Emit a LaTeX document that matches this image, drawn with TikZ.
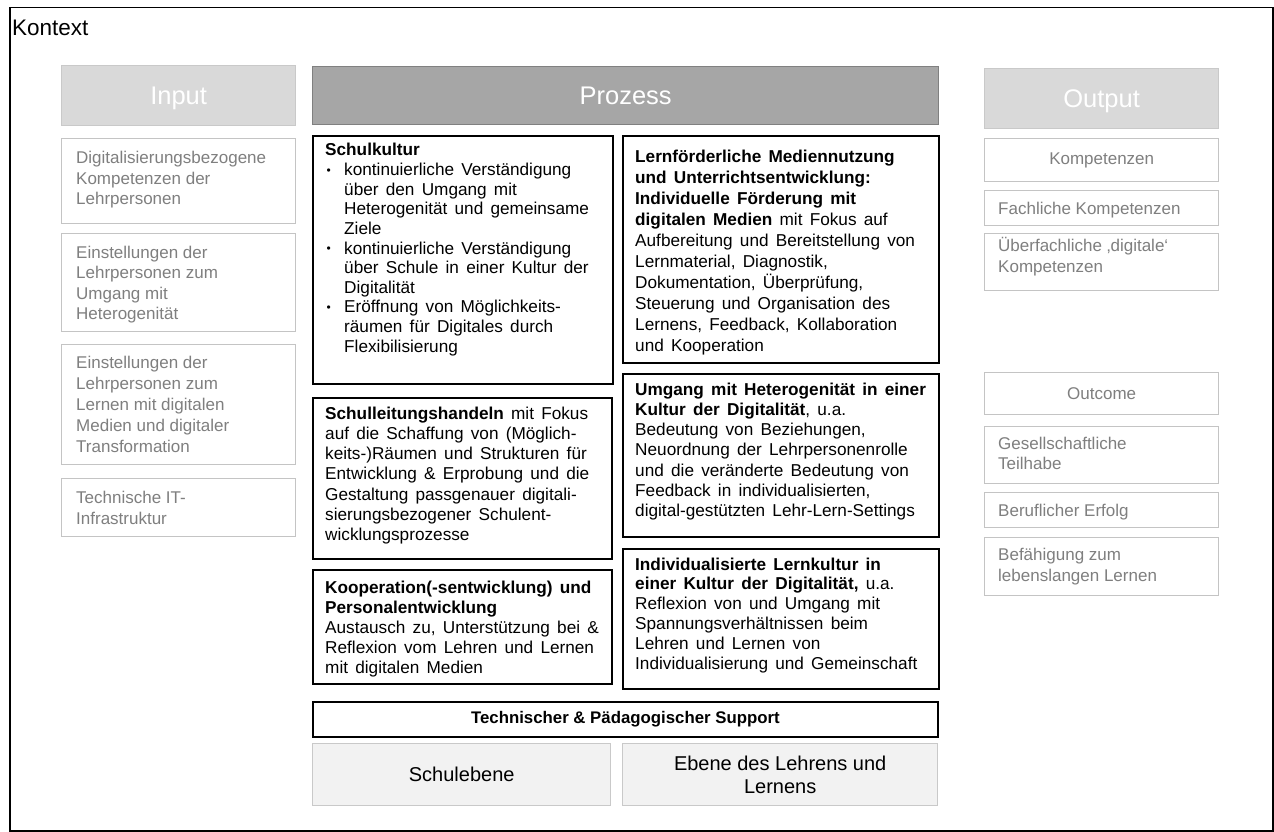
\documentclass[tikz,border=0pt]{standalone}
\usepackage{fontspec}
\setmainfont{Liberation Sans}
\definecolor{hdrlight}{HTML}{D9D9D9}
\definecolor{hdrlightline}{HTML}{C9C9C9}
\definecolor{hdrdark}{HTML}{A6A6A6}
\definecolor{hdrdarkline}{HTML}{808080}
\definecolor{itemline}{HTML}{C4C4C4}
\definecolor{itemtext}{HTML}{7F7F7F}
\definecolor{levelfill}{HTML}{F2F2F2}
\definecolor{levelline}{HTML}{C9C9C9}
% text block: first baseline at the node's base, fixed line spacing
\newcommand\lineblock[2]{\parbox[t]{310pt}{\fontsize{17}{#1}\selectfont\parskip=0pt\parindent=0pt #2}}
% process text: slightly wider word spacing
\newcommand\procblock[2]{\parbox[t]{330pt}{\fontsize{17.2}{#1}\selectfont\spaceskip=0.42em\relax\parskip=0pt\parindent=0pt #2}}
% bullet item with hanging indent
\newcommand\bulletitem[1]{{\hangindent=19pt\hangafter=1\noindent\makebox[19pt][l]{\hspace{1.5pt}\raisebox{1.2pt}{\fontsize{12}{12}\selectfont•}}#1\par}}
\begin{document}
\begin{tikzpicture}[x=1pt,y=-1pt,
  frame/.style={draw=black, line width=1.5pt, anchor=north west, inner sep=0pt},
  hdr/.style={anchor=north west, inner sep=0pt, text=white,
    font=\fontsize{25.5}{30}\selectfont, text height=18.3pt, text depth=0pt, line width=1.3pt},
  lighthdr/.style={hdr, draw=hdrlightline, fill=hdrlight},
  darkhdr/.style={hdr, draw=hdrdarkline, fill=hdrdark},
  gitem/.style={draw=itemline, fill=white, line width=1.4pt, anchor=north west, inner sep=0pt,
    minimum width=234pt, text=itemtext, font=\fontsize{17}{20}\selectfont},
  pbox/.style={draw=black, line width=1.8pt, anchor=north west, inner sep=0pt},
  gtext/.style={anchor=base west, inner sep=0pt, text=itemtext},
  btext/.style={anchor=base west, inner sep=0pt, text=black},
  levelbox/.style={draw=levelline, fill=levelfill, line width=1.4pt, anchor=north west,
    inner sep=0pt, align=center, font=\fontsize{20}{23}\selectfont}
]
\useasboundingbox (0,0) rectangle (1274,832);

% context frame
\node[frame, minimum width=1263pt, minimum height=823pt] (ctx) at (9,7) {};
\node[anchor=base west, inner sep=0pt, font=\fontsize{22.5}{26}\selectfont] (ctxlabel) at (12,36) {Kontext};

% column headers
\node[lighthdr, minimum width=234pt, minimum height=60pt] (input) at (61,65) {Input};
\node[darkhdr, minimum width=626pt, minimum height=58pt] (prozess) at (312,66) {Prozess};
\node[lighthdr, minimum width=234pt, minimum height=60pt] (output) at (984,68) {Output};

% input column
\node[gitem, minimum height=85pt] (in1) at (61,138) {};
\node[gtext] (in1t) at (76,163) {\lineblock{21}{Digitalisierungsbezogene\\Kompetenzen der\\Lehrpersonen}};
\node[gitem, minimum height=98pt] (in2) at (61,233) {};
\node[gtext] (in2t) at (76,258) {\lineblock{20.5}{Einstellungen der\\Lehrpersonen zum\\Umgang mit\\Heterogenität}};
\node[gitem, minimum height=120pt] (in3) at (61,344) {};
\node[gtext] (in3t) at (76,368) {\lineblock{21.2}{Einstellungen der\\Lehrpersonen zum\\Lernen mit digitalen\\Medien und digitaler\\Transformation}};
\node[gitem, minimum height=58pt] (in4) at (61,478) {};
\node[gtext] (in4t) at (76,503) {\lineblock{21}{Technische IT-\\Infrastruktur}};

% output column
\node[gitem, minimum height=43pt] (komp) at (984,138) {Kompetenzen};
\node[gitem, minimum height=35pt] (fach) at (984,190) {};
\node[gtext] (facht) at (998,214) {\lineblock{21}{Fachliche Kompetenzen}};
\node[gitem, minimum height=57pt] (ueber) at (984,233) {};
\node[gtext] (uebert) at (998,251) {\lineblock{21}{Überfachliche ‚digitale‘\\Kompetenzen}};
\node[gitem, minimum height=42pt] (outcome) at (984,372) {Outcome};
\node[gitem, minimum height=57pt] (teil) at (984,426) {};
\node[gtext] (teilt) at (998,449) {\lineblock{20.5}{Gesellschaftliche\\Teilhabe}};
\node[gitem, minimum height=35pt] (beruf) at (984,492) {};
\node[gtext] (beruft) at (998,516) {\lineblock{21}{Beruflicher Erfolg}};
\node[gitem, minimum height=58pt] (lebens) at (984,537) {};
\node[gtext] (lebenst) at (998,560) {\lineblock{21}{Befähigung zum\\lebenslangen Lernen}};

% process: school level (left) and teaching level (right)
\node[pbox, minimum width=300pt, minimum height=248pt] (kultur) at (312,135) {};
\node[btext] (kulturt) at (325,156) {\procblock{19.6}{%
  \textbf{Schulkultur}\par
  \bulletitem{kontinuierliche Verständigung\\über den Umgang mit\\Heterogenität und gemeinsame\\Ziele}
  \bulletitem{kontinuierliche Verständigung\\über Schule in einer Kultur der\\Digitalität}
  \bulletitem{Eröffnung von Möglichkeits-\\räumen für Digitales durch\\Flexibilisierung}}};

\node[pbox, minimum width=316pt, minimum height=227pt] (medien) at (622,135) {};
\node[btext] (medient) at (635,162) {\procblock{21.1}{%
  \textbf{Lernförderliche Mediennutzung}\\
  \textbf{und Unterrichtsentwicklung:}\\
  \textbf{Individuelle Förderung mit}\\
  \textbf{digitalen Medien} mit Fokus auf\\
  Aufbereitung und Bereitstellung von\\
  Lernmaterial, Diagnostik,\\
  Dokumentation, Überprüfung,\\
  Steuerung und Organisation des\\
  Lernens, Feedback, Kollaboration\\
  und Kooperation}};

\node[pbox, minimum width=299pt, minimum height=161pt] (leitung) at (312,397) {};
\node[btext] (leitungt) at (325,419) {\procblock{20.3}{%
  \textbf{Schulleitungshandeln} mit Fokus\\
  auf die Schaffung von (Möglich-\\
  keits-)Räumen und Strukturen für\\
  Entwicklung \& Erprobung und die\\
  Gestaltung passgenauer digitali-\\
  sierungsbezogener Schulent-\\
  wicklungsprozesse}};

\node[pbox, minimum width=316pt, minimum height=163pt] (hetero) at (622,373) {};
\node[btext] (heterot) at (635,395) {\procblock{20.3}{%
  \textbf{Umgang mit Heterogenität in einer}\\
  \textbf{Kultur der Digitalität}, u.a.\\
  Bedeutung von Beziehungen,\\
  Neuordnung der Lehrpersonenrolle\\
  und die veränderte Bedeutung von\\
  Feedback in individualisierten,\\
  digital-gestützten Lehr-Lern-Settings}};

\node[pbox, minimum width=299pt, minimum height=114pt] (koop) at (312,569) {};
\node[btext] (koopt) at (325,593) {\procblock{20}{%
  \textbf{Kooperation(-sentwicklung) und}\\
  \textbf{Personalentwicklung}\\
  Austausch zu, Unterstützung bei \&\\
  Reflexion vom Lehren und Lernen\\
  mit digitalen Medien}};

\node[pbox, minimum width=316pt, minimum height=140pt] (lernkultur) at (622,548) {};
\node[btext] (lernkulturt) at (635,570) {\procblock{19.8}{%
  \textbf{Individualisierte Lernkultur in}\\
  \textbf{einer Kultur der Digitalität,} u.a.\\
  Reflexion von und Umgang mit\\
  Spannungsverhältnissen beim\\
  Lehren und Lernen von\\
  Individualisierung und Gemeinschaft}};

% support and levels
\node[pbox, minimum width=625pt, minimum height=35pt, font=\bfseries\fontsize{16.8}{19}\selectfont] (support) at (312,701) {Technischer \& Pädagogischer Support};
\node[levelbox, minimum width=298pt, minimum height=62pt] (schulebene) at (312,743) {Schulebene};
\node[levelbox, minimum width=315pt, minimum height=62pt] (lehrebene) at (622,743) {Ebene des Lehrens und\\Lernens};
\end{tikzpicture}
\end{document}
